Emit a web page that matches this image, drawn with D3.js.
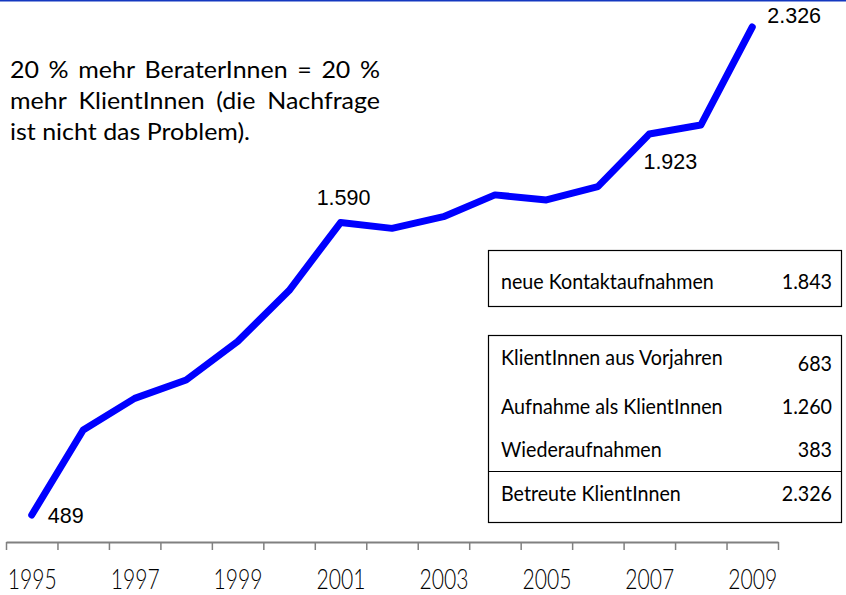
<!DOCTYPE html>
<html>
<head>
<meta charset="utf-8">
<script src="https://cdn.jsdelivr.net/npm/d3@7/dist/d3.min.js"></script>
<style>
  html, body { margin: 0; padding: 0; background: #ffffff; }
  svg { display: block; }
</style>
</head>
<body>
<script>
// ---------------- DATA ----------------
const years = [1995, 1996, 1997, 1998, 1999, 2000, 2001, 2002, 2003, 2004, 2005, 2006, 2007, 2008, 2009];
const clients = [489, 809, 928, 997, 1142, 1334, 1590, 1568, 1612, 1694, 1675, 1725, 1923, 1957, 2326];
const tickYears = [1995, 1997, 1999, 2001, 2003, 2005, 2007, 2009];
const labeledYears = [1995, 2001, 2007, 2009];
const annotationLines = [
  "20 % mehr BeraterInnen = 20 %",
  "mehr KlientInnen (die Nachfrage",
  "ist nicht das Problem)."
];
const box1Labels = ["neue Kontaktaufnahmen"];
const box1Values = [1843];
const box2Labels = ["KlientInnen aus Vorjahren", "Aufnahme als KlientInnen", "Wiederaufnahmen"];
const box2Values = [683, 1260, 383];
const totalLabel = "Betreute KlientInnen";
const totalValue = 2326;

// ---------------- SETUP ----------------
const W = 846, H = 595;
const de = d3.formatLocale({decimal: ",", thousands: ".", grouping: [3], currency: ["", " €"]});
const fmt = de.format(",");

const svg = d3.select("body").append("svg").attr("width", W).attr("height", H);

const SANS = "Lato, 'Open Sans', 'Noto Sans', sans-serif";
const ARIAL = "'Liberation Sans', Arial, sans-serif";

function measure(str, size, family, weight) {
  const t = svg.append("text").attr("font-family", family).attr("font-size", size)
    .attr("font-weight", weight || 400).text(str);
  const w = t.node().getComputedTextLength();
  t.remove();
  return w;
}

// top rule
svg.append("rect").attr("x", 0).attr("y", 0).attr("width", W).attr("height", 1.5).attr("fill", "#1438c0");

// ---------------- SCALES ----------------
const x = d3.scaleLinear().domain([1995, 2010]).range([6, 778]);
const y = d3.scaleLinear().domain([489, 2326]).range([515, 27]);
const cx = yr => x(yr + 0.5);

// ---------------- AXIS ----------------
const axisY = 542;
const axisG = svg.append("g").attr("transform", `translate(0,${axisY})`)
  .call(d3.axisBottom(x).tickValues(d3.range(1995, 2011)).tickFormat("").tickSize(8).tickSizeOuter(0));
axisG.select(".domain").attr("stroke", "#808080").attr("stroke-width", 2);
axisG.selectAll(".tick line").attr("stroke", "#808080").attr("stroke-width", 1.5);

const yearSize = 27;
const yearSx = 49 / measure("1995", yearSize, SANS, 300);
const labelAxis = svg.append("g").attr("transform", `translate(0,${axisY})`)
  .call(d3.axisBottom(x).tickValues(tickYears.map(d => d + 0.5)).tickFormat(d => String(Math.floor(d))).tickSize(0));
labelAxis.select(".domain").remove();
labelAxis.selectAll("text")
  .attr("y", 47.5).attr("dy", 0)
  .attr("font-family", SANS).attr("font-size", yearSize).attr("font-weight", 300).attr("fill", "#000")
  .attr("transform", `scale(${yearSx},1)`);

// ---------------- LINE ----------------
const data = years.map((yr, i) => ({yr, v: clients[i]}));
const line = d3.line().x(d => cx(d.yr)).y(d => y(d.v));
svg.append("path").datum(data)
  .attr("d", line)
  .attr("fill", "none")
  .attr("stroke", "#0000ff")
  .attr("stroke-width", 7)
  .attr("stroke-linejoin", "round")
  .attr("stroke-linecap", "round");

// data labels
const labelOffsets = {1995: [16, 8, "start"], 2001: [3, -18, "middle"], 2007: [21, 35, "middle"], 2009: [15, -4, "start"]};
svg.append("g").selectAll("text").data(data.filter(d => labeledYears.includes(d.yr)))
  .join("text")
  .attr("x", d => cx(d.yr) + labelOffsets[d.yr][0])
  .attr("y", d => y(d.v) + labelOffsets[d.yr][1])
  .attr("text-anchor", d => labelOffsets[d.yr][2])
  .attr("font-family", ARIAL).attr("font-size", 21.5).attr("fill", "#000")
  .text(d => fmt(d.v));

// ---------------- ANNOTATION ----------------
const annSize = 23.5;
const annSx = 240 / measure(annotationLines[2], annSize, SANS);
const annX0 = 10, annX1 = 380;
const annBase = [78, 109, 140];
const annG = svg.append("g");
annotationLines.forEach((ln, li) => {
  const words = ln.split(" ");
  if (li < annotationLines.length - 1) {
    const widths = words.map(w => measure(w, annSize, SANS) * annSx);
    const gap = (annX1 - annX0 - d3.sum(widths)) / (words.length - 1);
    let pos = annX0;
    words.forEach((w, i) => {
      annG.append("text")
        .attr("transform", `translate(${pos},${annBase[li]}) scale(${annSx},1)`)
        .attr("font-family", SANS).attr("font-size", annSize).attr("fill", "#000")
        .text(w);
      pos += widths[i] + gap;
    });
  } else {
    annG.append("text")
      .attr("transform", `translate(${annX0},${annBase[li]}) scale(${annSx},1)`)
      .attr("font-family", SANS).attr("font-size", annSize).attr("fill", "#000")
      .text(ln);
  }
});

// ---------------- TABLE BOXES ----------------
const tSize = 20.5;
const tSx = 213 / measure(box1Labels[0], tSize, SANS);
const tLeft = 501, tRight = 832;
function row(g, label, value, by, vy) {
  g.append("text")
    .attr("transform", `translate(${tLeft},${by}) scale(${tSx},1)`)
    .attr("font-family", SANS).attr("font-size", tSize).attr("fill", "#000").text(label);
  g.append("text")
    .attr("transform", `translate(${tRight},${vy}) scale(${tSx},1)`)
    .attr("text-anchor", "end")
    .attr("font-family", SANS).attr("font-size", tSize).attr("fill", "#000").text(fmt(value));
}
const tg = svg.append("g");
tg.append("rect").attr("x", 488.5).attr("y", 250.5).attr("width", 353).attr("height", 56)
  .attr("fill", "none").attr("stroke", "#000").attr("stroke-width", 1.2);
row(tg, box1Labels[0], box1Values[0], 289, 289);

tg.append("rect").attr("x", 488.5).attr("y", 335.5).attr("width", 353).attr("height", 187)
  .attr("fill", "none").attr("stroke", "#000").attr("stroke-width", 1.2);
tg.append("line").attr("x1", 488.5).attr("x2", 841.5).attr("y1", 471.5).attr("y2", 471.5)
  .attr("stroke", "#000").attr("stroke-width", 1.2);
const rowBase = [365, 414, 457];
const valBase = [371, 414, 457];
box2Labels.forEach((l, i) => row(tg, l, box2Values[i], rowBase[i], valBase[i]));
row(tg, totalLabel, totalValue, 501, 501);
</script>
</body>
</html>
